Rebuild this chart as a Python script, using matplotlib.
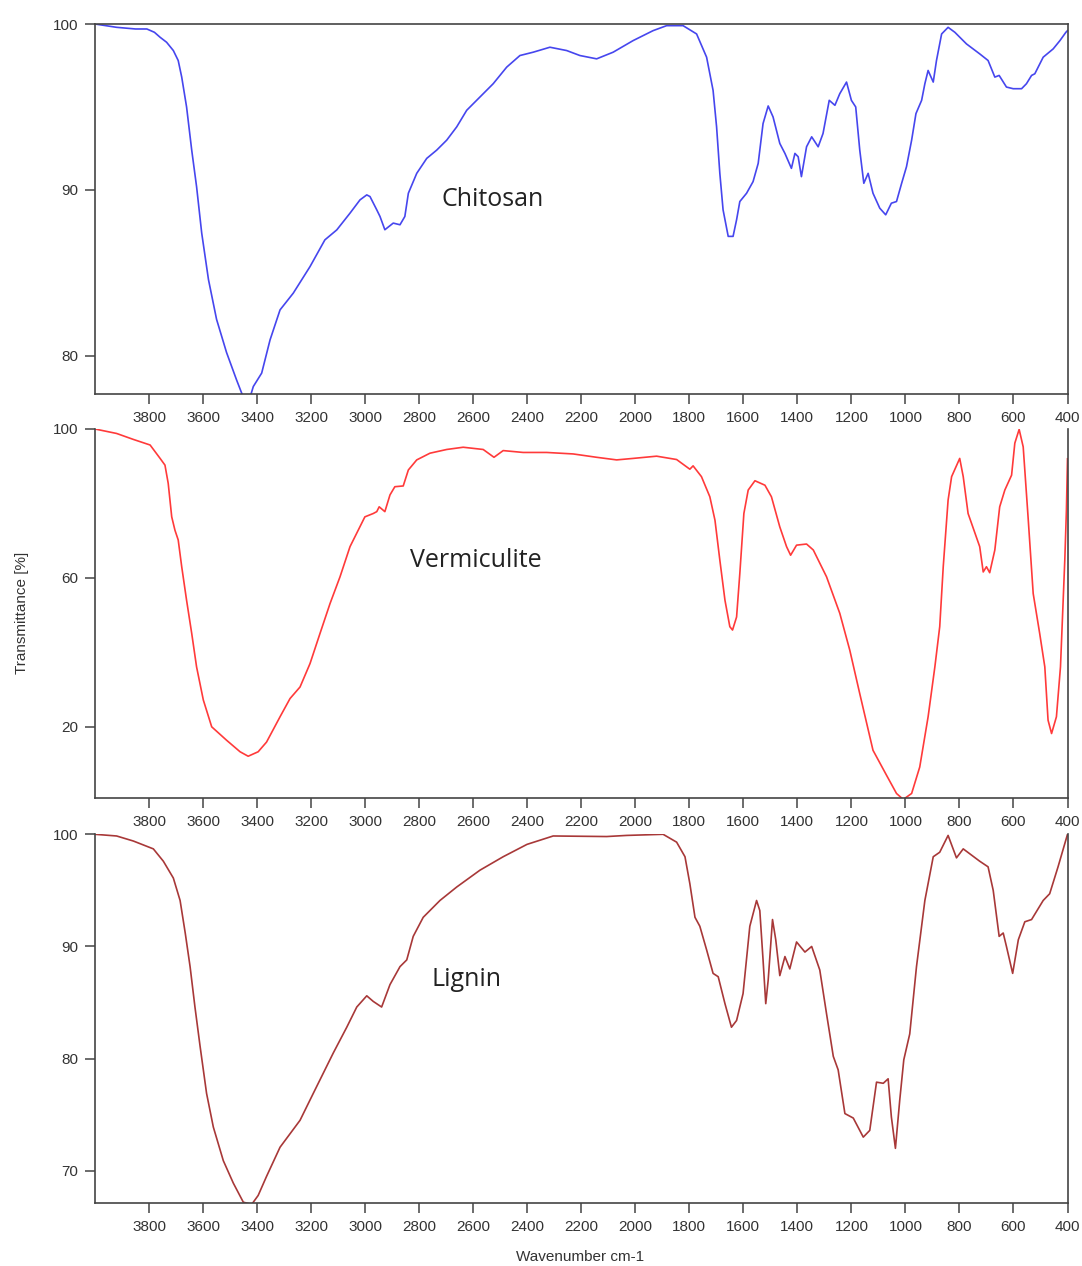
import numpy as np
import matplotlib
matplotlib.use("Agg")
import matplotlib.pyplot as plt

# ---------------- data (wavenumber cm-1, transmittance %) ----------------
chitosan = [
    (4000, 100), (3920, 99.8), (3850, 99.7), (3808, 99.7), (3780, 99.5), (3759, 99.2),
    (3735, 98.9), (3710, 98.4), (3692, 97.8),
    (3679, 96.8), (3661, 95.0), (3642, 92.4), (3624, 90.2), (3605, 87.4), (3580, 84.6),
    (3550, 82.2), (3513, 80.2), (3476, 78.55), (3451, 77.5), (3426, 77.5), (3414, 78.15),
    (3383, 78.96), (3352, 80.96), (3315, 82.77), (3266, 83.78), (3204, 85.38), (3149, 86.99),
    (3105, 87.59), (3056, 88.6), (3019, 89.4), (2994, 89.7), (2982, 89.6), (2957, 88.8),
    (2945, 88.4), (2927, 87.6), (2896, 88.0), (2871, 87.9), (2853, 88.4), (2840, 89.8),
    (2809, 91.0), (2772, 91.9), (2735, 92.4), (2698, 93.0), (2661, 93.8), (2624, 94.8),
    (2575, 95.6), (2526, 96.4), (2476, 97.4), (2427, 98.1), (2378, 98.3), (2316, 98.6),
    (2254, 98.4), (2205, 98.1), (2143, 97.9), (2082, 98.3), (2008, 99.0), (1934, 99.6),
    (1884, 99.9), (1823, 99.9), (1773, 99.4), (1736, 98.0), (1712, 96.0), (1699, 93.8),
    (1687, 91.0), (1675, 88.8), (1656, 87.2), (1638, 87.2), (1625, 88.2), (1613, 89.3),
    (1588, 89.8), (1564, 90.5), (1545, 91.6), (1527, 94.0), (1508, 95.06), (1490, 94.4),
    (1465, 92.8), (1446, 92.2), (1422, 91.3), (1409, 92.2), (1397, 92.0), (1385, 90.8),
    (1366, 92.6), (1347, 93.2), (1323, 92.6), (1305, 93.4), (1282, 95.4), (1261, 95.1),
    (1243, 95.8), (1218, 96.5), (1200, 95.4), (1184, 95.0), (1169, 92.4), (1154, 90.4),
    (1138, 91.0), (1120, 89.8), (1095, 88.9), (1073, 88.5), (1052, 89.2), (1033, 89.3),
    (1014, 90.4), (996, 91.4), (977, 93.0), (961, 94.6), (940, 95.4), (928, 96.4),
    (916, 97.2), (897, 96.5), (885, 97.8), (866, 99.4), (842, 99.8), (817, 99.5),
    (774, 98.8), (725, 98.2), (694, 97.8), (669, 96.8), (653, 96.9), (626, 96.2),
    (601, 96.1), (570, 96.1), (552, 96.4), (533, 96.9), (521, 97.0), (490, 98.0),
    (453, 98.5), (428, 99.0), (406, 99.5), (400, 99.6),
]

vermiculite = [
    (4000, 100), (3920, 98.8), (3858, 97.2), (3796, 95.7), (3759, 92.1), (3741, 90.3),
    (3729, 85.4), (3716, 76.4), (3704, 72.8), (3692, 70.2), (3679, 63.0), (3661, 54.0),
    (3642, 45.1), (3624, 36.1), (3599, 27.2), (3568, 20.0), (3513, 16.4), (3463, 13.3),
    (3433, 12.1), (3396, 13.3), (3365, 15.9), (3315, 22.7), (3278, 27.6), (3241, 30.7),
    (3204, 37.0), (3167, 45.1), (3130, 53.1), (3093, 60.3), (3056, 68.4), (3001, 76.4),
    (2970, 77.3), (2957, 77.8), (2948, 79.1), (2927, 77.8), (2908, 82.3), (2890, 84.5),
    (2859, 84.7), (2840, 89.0), (2809, 91.7), (2760, 93.5), (2698, 94.5), (2637, 95.1),
    (2563, 94.5), (2523, 92.4), (2489, 94.2), (2415, 93.7), (2328, 93.7), (2230, 93.3),
    (2143, 92.4), (2069, 91.7), (2008, 92.1), (1921, 92.7), (1847, 91.8), (1798, 89.2),
    (1786, 90.1), (1755, 87.2), (1724, 81.8), (1705, 75.5), (1687, 64.8), (1668, 54.0),
    (1650, 46.9), (1640, 46.0), (1625, 49.5), (1613, 61.2), (1598, 77.3), (1582, 83.6),
    (1557, 86.1), (1520, 84.9), (1496, 81.8), (1465, 73.7), (1440, 68.4), (1425, 66.1),
    (1403, 68.8), (1366, 69.1), (1341, 67.5), (1292, 60.3), (1243, 50.5), (1206, 40.6),
    (1169, 28.9), (1120, 13.7), (1070, 7.0), (1033, 2.1), (1008, 0.5), (977, 2.1),
    (947, 9.2), (916, 22.7), (891, 36.1), (873, 46.9), (860, 63.0), (842, 80.9),
    (829, 87.2), (799, 92.1), (786, 87.2), (768, 77.3), (725, 68.4), (712, 61.6),
    (700, 63.0), (688, 61.4), (669, 67.5), (651, 79.1), (632, 83.6), (607, 87.6),
    (595, 96.2), (579, 99.9), (564, 95.2), (546, 76.4), (527, 55.8), (503, 45.1),
    (484, 36.1), (472, 21.8), (459, 18.2), (441, 22.7), (426, 36.1), (416, 54.0),
    (410, 64.8), (404, 78.2), (400, 92.0),
]

lignin = [
    (4000, 100), (3920, 99.85), (3858, 99.4), (3784, 98.7), (3747, 97.6), (3710, 96.1),
    (3685, 94.1), (3666, 91.2), (3648, 88.2), (3630, 84.6), (3611, 81.1), (3587, 76.9),
    (3562, 73.9), (3525, 70.9), (3488, 68.9), (3451, 67.2), (3420, 67.0), (3396, 67.8),
    (3365, 69.5), (3315, 72.1), (3278, 73.3), (3241, 74.5), (3192, 76.9), (3118, 80.5),
    (3068, 82.8), (3031, 84.6), (2994, 85.6), (2970, 85.1), (2939, 84.6), (2908, 86.6),
    (2871, 88.2), (2846, 88.8), (2822, 90.9), (2785, 92.6), (2723, 94.1), (2661, 95.3),
    (2575, 96.8), (2489, 98.0), (2401, 99.1), (2304, 99.85), (2106, 99.8), (2032, 99.9),
    (1897, 100.0), (1847, 99.3), (1816, 98.0), (1798, 95.6), (1779, 92.6), (1761, 91.8),
    (1736, 89.7), (1712, 87.6), (1693, 87.3), (1668, 84.9), (1644, 82.8), (1625, 83.4),
    (1601, 85.8), (1576, 91.8), (1551, 94.1), (1539, 93.2), (1527, 88.8), (1517, 84.9),
    (1508, 87.0), (1492, 92.4), (1480, 90.6), (1465, 87.4), (1446, 89.1), (1428, 88.0),
    (1403, 90.4), (1372, 89.5), (1347, 90.0), (1317, 87.9), (1292, 84.0), (1267, 80.2),
    (1249, 79.0), (1224, 75.1), (1193, 74.7), (1156, 73.0), (1132, 73.6), (1107, 77.9),
    (1082, 77.8), (1064, 78.2), (1052, 74.8), (1037, 72.0), (1021, 76.3), (1006, 79.9),
    (984, 82.2), (959, 88.2), (928, 94.1), (897, 98.0), (873, 98.4), (842, 99.9),
    (811, 97.9), (786, 98.7), (725, 97.6), (694, 97.1), (675, 95.0), (653, 90.9),
    (638, 91.2), (626, 90.0), (603, 87.6), (582, 90.6), (558, 92.2), (533, 92.4),
    (490, 94.1), (466, 94.7), (435, 97.1), (406, 99.5), (400, 100.0),
]

names = ["Chitosan", "Vermiculite", "Lignin"]
colors = ["#4646ee", "#ff3a3a", "#a83838"]
ylims = [(77.7, 100), (0.8, 100), (67.1, 100)]
yticks = [[80, 90, 100], [20, 60, 100], [70, 80, 90, 100]]
xticks = list(range(3800, 399, -200))
label_pos = [(493, 200), (476, 560), (466, 980)]  # pixel centres
axes_px = [(24, 394), (429, 798.3), (834.3, 1203.3)]  # top/bottom pixel rows

W, H = 1082, 1266
fig = plt.figure(figsize=(W / 100, H / 100), dpi=100)
fig.patch.set_facecolor("white")

left_px, right_px = 95, 1067.5
spine_col = "#444444"
txt_col = "#333333"

for i, data in enumerate([chitosan, vermiculite, lignin]):
    top, bot = axes_px[i]
    ax = fig.add_axes([left_px / W, 1 - bot / H, (right_px - left_px) / W, (bot - top) / H])
    arr = np.array(data, dtype=float)
    ax.plot(arr[:, 0], arr[:, 1], color=colors[i], lw=1.2, solid_joinstyle="round")
    ax.set_xlim(4000, 400)
    ax.set_ylim(*ylims[i])
    ax.set_xticks(xticks)
    ax.set_xticklabels([str(t) for t in xticks])
    ax.set_yticks(yticks[i])
    ax.set_yticklabels([str(t) for t in yticks[i]])
    for s in ["left", "right", "bottom", "top"]:
        ax.spines[s].set_color(spine_col)
        ax.spines[s].set_linewidth(1.2)
    if i > 0:
        ax.spines["top"].set_visible(False)
    ax.tick_params(direction="out", length=7, width=1.1, color=spine_col,
                   labelcolor=txt_col, labelsize=11, pad=5)
    for lab in ax.get_xticklabels() + ax.get_yticklabels():
        lab.set_family(["Liberation Sans", "DejaVu Sans"])
    lx, ly = label_pos[i]
    fig.text(lx / W, 1 - ly / H, names[i], ha="center", va="center",
             fontsize=18, color="#222222", family=["Open Sans", "DejaVu Sans"])

fig.text(22 / W, 1 - 613 / H, "Transmittance [%]", rotation=90, ha="center", va="center",
         fontsize=11, color=txt_col, family=["Liberation Sans", "DejaVu Sans"])
fig.text(580 / W, 1 - 1257 / H, "Wavenumber cm-1", ha="center", va="center",
         fontsize=11, color=txt_col, family=["Liberation Sans", "DejaVu Sans"])

fig.savefig("out.png", dpi=100, facecolor="white")
